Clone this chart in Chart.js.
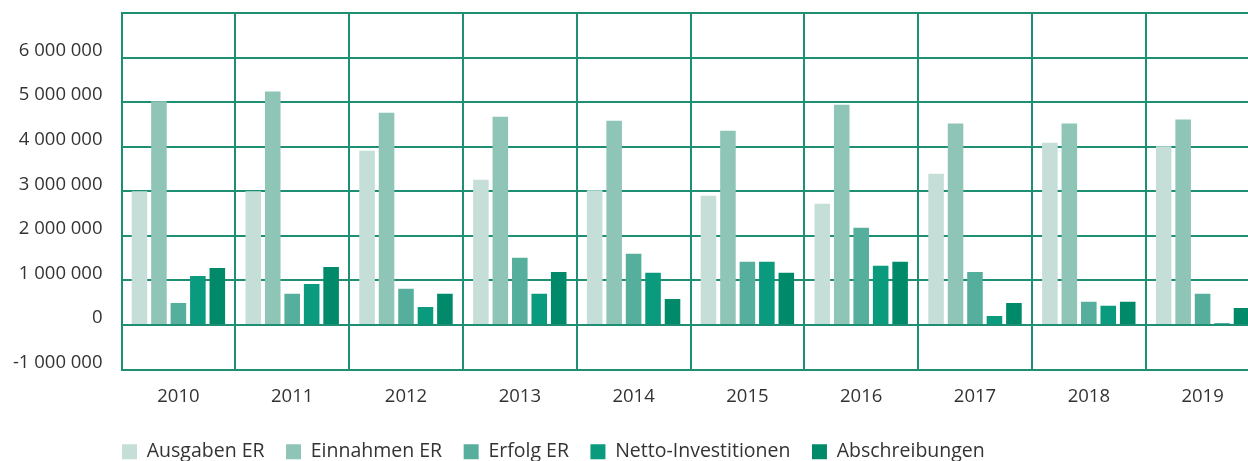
<!DOCTYPE html>
<html>
<head>
<meta charset="utf-8">
<script src="https://cdn.jsdelivr.net/npm/chart.js@4/dist/chart.umd.min.js"></script>
<style>
html,body{margin:0;padding:0;background:#fff;overflow:hidden;}
#wrap{position:relative;width:1261px;height:461px;}
</style>
</head>
<body>
<div id="wrap"><canvas id="c"></canvas></div>
<script>
const years = ['2010','2011','2012','2013','2014','2015','2016','2017','2018','2019'];
const seriesNames = ['Ausgaben ER','Einnahmen ER','Erfolg ER','Netto-Investitionen','Abschreibungen'];
const ausgabenER = [3000000, 3000000, 3910000, 3260000, 3020000, 2900000, 2720000, 3390000, 4090000, 4010000];
const einnahmenER = [5020000, 5240000, 4760000, 4670000, 4580000, 4360000, 4940000, 4520000, 4520000, 4610000];
const erfolgER = [490000, 700000, 810000, 1510000, 1600000, 1420000, 2180000, 1190000, 520000, 700000];
const nettoInvestitionen = [1100000, 920000, 400000, 700000, 1170000, 1420000, 1330000, 200000, 430000, 40000];
const abschreibungen = [1280000, 1300000, 700000, 1190000, 580000, 1170000, 1420000, 490000, 520000, 380000];
const yMin = -1000000, yMax = 7000000, yStep = 1000000;

const colors = ['#c5dfd8','#8ec5b7','#56af9c','#0a9a7e','#008a6a'];
const gridColor = '#1f8f73';
const textColor = '#333333';
const fontFam = '"Open Sans", "Noto Sans", sans-serif';

function fmt(v){
  if (v === yMax) return '';
  const s = Math.abs(v).toString().replace(/\B(?=(\d{3})+(?!\d))/g, ' ');
  return (v < 0 ? '-' : '') + s;
}

const legendShift = {
  id: 'legendShift',
  afterLayout(chart){
    const lg = chart.legend;
    if (!lg) return;
    lg.left += 100.5; lg.right += 100.5;
    lg.top += 10.5; lg.bottom += 10.5;
  }
};

const data = {
  labels: years,
  datasets: [ausgabenER, einnahmenER, erfolgER, nettoInvestitionen, abschreibungen].map((d,i)=>({
    label: seriesNames[i],
    data: d,
    backgroundColor: colors[i],
    borderWidth: 0,
    categoryPercentage: 0.855,
    barPercentage: 0.8
  }))
};

new Chart(document.getElementById('c'), {
  type: 'bar',
  data,
  plugins: [legendShift],
  options: {
    responsive: true,
    maintainAspectRatio: false,
    animation: false,
    layout: { padding: { top: 13, right: 1.5, left: 0, bottom: 0 } },
    plugins: {
      tooltip: { enabled: false },
      legend: {
        position: 'bottom',
        align: 'start',
        labels: {
          boxWidth: 15,
          boxHeight: 15,
          padding: 21.5,
          color: textColor,
          font: { family: fontFam, size: 19.5 }
        }
      }
    },
    scales: {
      x: {
        grid: { color: gridColor, lineWidth: 2, drawTicks: false, offset: true },
        border: { display: true, color: gridColor, width: 2 },
        ticks: { color: textColor, padding: 16, font: { family: fontFam, size: 18.5 } },
        afterFit(s){ s.height = 40.5; }
      },
      y: {
        min: yMin, max: yMax,
        grid: { color: gridColor, lineWidth: 2, drawTicks: true, tickLength: 19, tickColor: 'rgba(0,0,0,0)' },
        border: { display: true, color: gridColor, width: 2 },
        ticks: {
          stepSize: yStep,
          color: textColor,
          padding: 0,
          labelOffset: -7,
          font: { family: fontFam, size: 18.5 },
          callback: (v) => fmt(v)
        },
        afterFit(s){ s.width = 121.5; }
      }
    }
  }
});
</script>
</body>
</html>
